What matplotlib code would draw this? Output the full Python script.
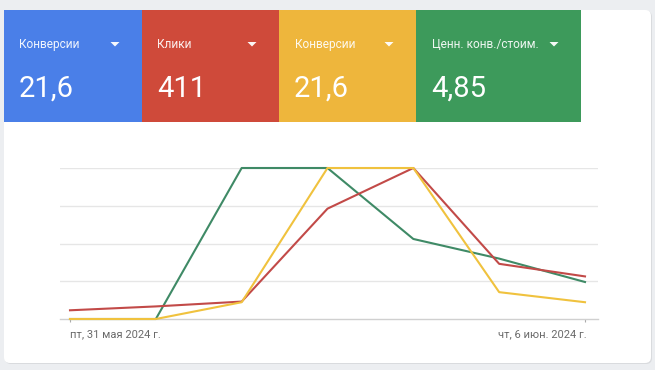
import matplotlib
matplotlib.use("Agg")
import matplotlib.pyplot as plt
from matplotlib.patches import Rectangle, FancyBboxPatch, Polygon
from matplotlib.transforms import ScaledTranslation

plt.rcParams['font.family'] = ['Roboto', 'DejaVu Sans']

# ---- data ----
days = ['пт, 31 мая 2024 г.', 'сб, 1 июн. 2024 г.', 'вс, 2 июн. 2024 г.',
        'пн, 3 июн. 2024 г.', 'вт, 4 июн. 2024 г.', 'ср, 5 июн. 2024 г.',
        'чт, 6 июн. 2024 г.']
tile_titles = ['Конверсии', 'Клики', 'Конверсии', 'Ценн. конв./стоим.']
tile_values = ['21,6', '411', '21,6', '4,85']
clicks = [9, 13, 18, 114, 156, 57, 44]
conversions = [0, 0, 1.0, 9.0, 9.0, 1.6, 1.0]
value_per_cost = [0, 0, 10.0, 10.0, 5.3, 4.0, 2.45]

# ---- styles ----
W, H = 655, 370
tile_colors = ['#4a7fe8', '#cf4a3a', '#eeb63c', '#3d9a5b']
tile_edges = [4, 142, 279, 416, 581]
line_specs = [(value_per_cost, '#3f8a66'), (clicks, '#c24a48'), (conversions, '#f0c23e')]

fig = plt.figure(figsize=(W / 100, H / 100), dpi=100, facecolor='#eceef1')

bg = fig.add_axes([0, 0, 1, 1])
bg.set_xlim(0, W)
bg.set_ylim(H, 0)
bg.axis('off')
bg.set_facecolor('none')

# card shadow and card
bg.add_patch(FancyBboxPatch((5, 11), 647, 353, boxstyle='round,pad=0,rounding_size=6',
                            fc='#d9dbde', ec='none', zorder=1))
bg.add_patch(FancyBboxPatch((4, 10), 647, 353, boxstyle='round,pad=0,rounding_size=6',
                            fc='white', ec='none', zorder=2))

for i, (t, v) in enumerate(zip(tile_titles, tile_values)):
    x0, x1 = tile_edges[i], tile_edges[i + 1]
    bg.add_patch(Rectangle((x0, 10), x1 - x0, 112, fc=tile_colors[i], ec='none', zorder=3))
    bg.text(x0 + 15.5, 44.5, t, color='white', alpha=0.92, fontsize=8.6,
            ha='left', va='center', zorder=4)
    bg.text(x0 + 15, 89, v, color='white', fontsize=21,
            ha='left', va='center', zorder=4)
    tx = x1 - 27
    bg.add_patch(Polygon([(tx - 4.5, 42), (tx + 4.5, 42), (tx, 46.5)], closed=True,
                         fc='white', ec='none', alpha=0.95, zorder=4))

# ---- chart ----
left_px, right_px, top_px, bot_px = 60, 598, 168, 319
x0_px, x6_px = 70, 585
sp = (x6_px - x0_px) / 6
ax = fig.add_axes([left_px / W, 1 - bot_px / H, (right_px - left_px) / W, (bot_px - top_px) / H])
ax.set_facecolor('none')
ax.set_xlim(-(x0_px - left_px) / sp, 6 + (right_px - x6_px) / sp)
ax.set_ylim(0, 1)
ax.set_yticks([0.25, 0.5, 0.75, 1.0])
ax.yaxis.grid(True, color='#e6e6e6', lw=1)
for s in ['left', 'right', 'top']:
    ax.spines[s].set_visible(False)
ax.spines['bottom'].set_color('#d0d0d0')
ax.spines['bottom'].set_linewidth(1)
xs = list(range(len(days)))

for series, col in line_specs:
    a = ax.twinx()
    a.set_ylim(0, max(series))
    a.plot(xs, series, color=col, lw=1.5, clip_on=False, solid_joinstyle='round')
    a.axis('off')

ax.tick_params(axis='y', left=False, right=False, labelleft=False, labelright=False)
ax.set_xticks([xs[0], xs[-1]])
ax.set_xticklabels([days[0], days[-1]], fontsize=8, color='#6a6a6a')
labs = ax.get_xticklabels()
labs[0].set_ha('left')
labs[1].set_ha('right')
ax.tick_params(axis='x', length=2.5, width=0.8, color='#aaaaaa', pad=5)
labs[1].set_transform(labs[1].get_transform() + ScaledTranslation(2 / 100, 0, fig.dpi_scale_trans))

fig.savefig('out.png', dpi=100, facecolor=fig.get_facecolor())
